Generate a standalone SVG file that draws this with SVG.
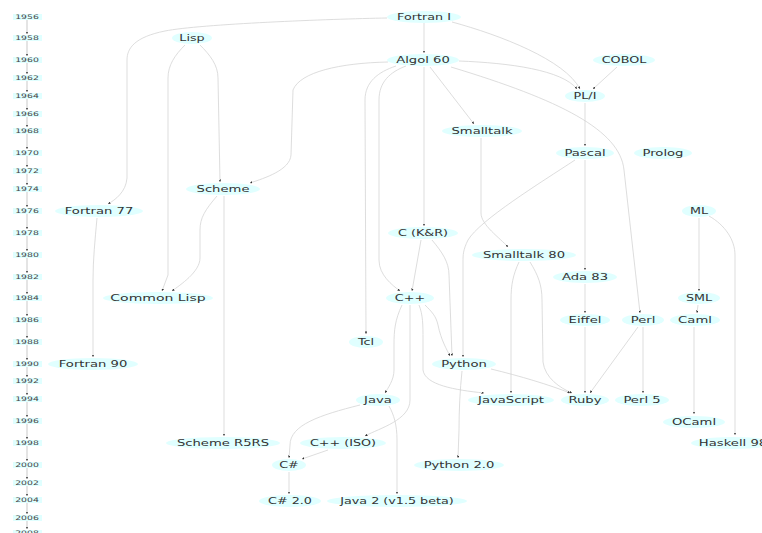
<svg xmlns="http://www.w3.org/2000/svg" width="762" height="533" viewBox="0 0 762 533">
<defs>
<style>
.node ellipse{fill:#e0ffff;stroke:none}
.node text{font-family:"DejaVu Sans",sans-serif;font-size:8.5px;text-anchor:middle;fill:#333}
.edges path{fill:none;stroke:#d4d4d4;stroke-width:0.8;marker-end:url(#ah)}
.years rect{fill:#e0ffff}
.years text{font-family:"DejaVu Sans",sans-serif;font-size:6.2px;text-anchor:middle;fill:#444}
.tl path{fill:none;stroke:#bbb;stroke-width:0.8;marker-end:url(#ah)}
</style>
<marker id="ah" viewBox="0 0 4 4" refX="4" refY="2" markerWidth="2.5" markerHeight="2.5" orient="auto" markerUnits="userSpaceOnUse">
<path d="M0,0 L4,2 L0,4 Z" fill="#333"/>
</marker>
</defs>
<rect width="762" height="533" fill="#fff"/>

<g id="timeline" class="tl">
<path d="M27,20 L27,34"/><path d="M27,41 L27,56"/><path d="M27,63 L27,74"/><path d="M27,81 L27,92"/>
<path d="M27,99 L27,110"/><path d="M27,117 L27,127"/><path d="M27,134 L27,149"/><path d="M27,156 L27,167"/>
<path d="M27,174 L27,185"/><path d="M27,192 L27,207"/><path d="M27,214 L27,229"/><path d="M27,236 L27,251"/>
<path d="M27,258 L27,273"/><path d="M27,280 L27,294"/><path d="M27,301 L27,316"/><path d="M27,323 L27,338"/>
<path d="M27,345 L27,360"/><path d="M27,367 L27,377"/><path d="M27,384 L27,395"/><path d="M27,402 L27,417"/>
<path d="M27,424 L27,439"/><path d="M27,446 L27,461"/><path d="M27,468 L27,479"/><path d="M27,486 L27,496"/>
<path d="M27,503 L27,514"/><path d="M27,521 L27,529"/>
</g>
<g id="years" class="years">
<rect x="13" y="14" width="29" height="6"/><text transform="translate(27 19.2) scale(1.5 1)">1956</text>
<rect x="13" y="35" width="29" height="6"/><text transform="translate(27 40.2) scale(1.5 1)">1958</text>
<rect x="13" y="57" width="29" height="6"/><text transform="translate(27 62.2) scale(1.5 1)">1960</text>
<rect x="13" y="75" width="29" height="6"/><text transform="translate(27 80.2) scale(1.5 1)">1962</text>
<rect x="13" y="93" width="29" height="6"/><text transform="translate(27 98.2) scale(1.5 1)">1964</text>
<rect x="13" y="111" width="29" height="6"/><text transform="translate(27 116.2) scale(1.5 1)">1966</text>
<rect x="13" y="128" width="29" height="6"/><text transform="translate(27 133.2) scale(1.5 1)">1968</text>
<rect x="13" y="150" width="29" height="6"/><text transform="translate(27 155.2) scale(1.5 1)">1970</text>
<rect x="13" y="168" width="29" height="6"/><text transform="translate(27 173.2) scale(1.5 1)">1972</text>
<rect x="13" y="186" width="29" height="6"/><text transform="translate(27 191.2) scale(1.5 1)">1974</text>
<rect x="13" y="208" width="29" height="6"/><text transform="translate(27 213.2) scale(1.5 1)">1976</text>
<rect x="13" y="230" width="29" height="6"/><text transform="translate(27 235.2) scale(1.5 1)">1978</text>
<rect x="13" y="252" width="29" height="6"/><text transform="translate(27 257.2) scale(1.5 1)">1980</text>
<rect x="13" y="274" width="29" height="6"/><text transform="translate(27 279.2) scale(1.5 1)">1982</text>
<rect x="13" y="295" width="29" height="6"/><text transform="translate(27 300.2) scale(1.5 1)">1984</text>
<rect x="13" y="317" width="29" height="6"/><text transform="translate(27 322.2) scale(1.5 1)">1986</text>
<rect x="13" y="339" width="29" height="6"/><text transform="translate(27 344.2) scale(1.5 1)">1988</text>
<rect x="13" y="361" width="29" height="6"/><text transform="translate(27 366.2) scale(1.5 1)">1990</text>
<rect x="13" y="378" width="29" height="6"/><text transform="translate(27 383.2) scale(1.5 1)">1992</text>
<rect x="13" y="396" width="29" height="6"/><text transform="translate(27 401.2) scale(1.5 1)">1994</text>
<rect x="13" y="418" width="29" height="6"/><text transform="translate(27 423.2) scale(1.5 1)">1996</text>
<rect x="13" y="440" width="29" height="6"/><text transform="translate(27 445.2) scale(1.5 1)">1998</text>
<rect x="13" y="462" width="29" height="6"/><text transform="translate(27 467.2) scale(1.5 1)">2000</text>
<rect x="13" y="480" width="29" height="6"/><text transform="translate(27 485.2) scale(1.5 1)">2002</text>
<rect x="13" y="497" width="29" height="6"/><text transform="translate(27 502.2) scale(1.5 1)">2004</text>
<rect x="13" y="515" width="29" height="6"/><text transform="translate(27 520.2) scale(1.5 1)">2006</text>
<rect x="13" y="530" width="29" height="6"/><text transform="translate(27 535.2) scale(1.5 1)">2008</text>
</g>

<g id="edges" class="edges">
<path d="M424,23 L424,53"/>
<path d="M387,18 C330,19 200,24 165,31 C135,37 127,48 127,60 L127,178 C126,192 115,200 108,204"/>
<path d="M452,22 C500,35 565,60 580,89"/>
<path d="M459,61 C510,63 562,70 577,89"/>
<path d="M617,67 L593,89"/>
<path d="M585,103 L585,146"/>
<path d="M430,67 L474,124"/>
<path d="M388,62 C340,63 300,72 293,90 L291,155 C290,170 265,178 250,183"/>
<path d="M396,66 C378,72 365,82 365,100 L366,334"/>
<path d="M406,66 C390,72 379,82 379,100 L379,260 C379,275 392,285 400,291"/>
<path d="M424,67 L424,226"/>
<path d="M451,67 C560,100 620,130 624,170 L640,313"/>
<path d="M481,138 L481,213 C481,225 500,238 508,247"/>
<path d="M585,160 L585,270"/>
<path d="M575,160 C540,183 480,220 468,240 C463,250 463,255 463,262 L463,357"/>
<path d="M217,196 C205,210 200,218 200,230 L200,258 C200,272 180,285 172,291"/>
<path d="M185,45 C175,55 168,65 168,78 L168,275 L162,291"/>
<path d="M200,45 C210,55 218,65 218,78 L220,182"/>
<path d="M97,218 C95,240 93,260 93,280 L93,357"/>
<path d="M224,196 L224,436"/>
<path d="M421,240 L412,291"/>
<path d="M432,240 C442,252 449,262 449,275 L452,356"/>
<path d="M519,262 C513,275 511,285 511,300 L511,393"/>
<path d="M530,262 C538,275 542,285 542,300 L543,362 C545,378 560,388 572,393"/>
<path d="M585,284 L585,313"/>
<path d="M585,327 L585,393"/>
<path d="M638,327 L590,393"/>
<path d="M643,327 L643,393"/>
<path d="M699,218 L699,291"/>
<path d="M709,216 C725,225 735,240 735,255 L735,435"/>
<path d="M698,305 L697,313"/>
<path d="M694,327 L694,414"/>
<path d="M402,305 C395,320 394,330 394,345 L394,370 C394,380 388,388 385,393"/>
<path d="M410,305 L410,400 C410,420 380,428 365,436"/>
<path d="M419,305 C423,315 423,325 423,340 L423,370 C425,385 455,390 484,393"/>
<path d="M425,305 C432,312 436,316 438,325 C441,340 447,350 450,356"/>
<path d="M491,369 C520,376 550,385 570,393"/>
<path d="M462,371 C460,390 459,410 459,430 L458,458"/>
<path d="M360,405 C320,415 290,425 290,445 L289,458"/>
<path d="M389,406 C394,415 397,425 397,440 L397,494"/>
<path d="M328,450 L302,459"/>
<path d="M289,472 L289,494"/>
</g>

<g id="fortran1" class="node"><ellipse cx="424" cy="17" rx="37" ry="6"/><text transform="translate(424 20) scale(1.5 1)">Fortran I</text></g>
<g id="lisp" class="node"><ellipse cx="192" cy="38" rx="20" ry="6"/><text transform="translate(192 41) scale(1.5 1)">Lisp</text></g>
<g id="algol60" class="node"><ellipse cx="423" cy="60" rx="36" ry="6"/><text transform="translate(423 63) scale(1.55 1)">Algol 60</text></g>
<g id="cobol" class="node"><ellipse cx="624" cy="60" rx="31" ry="6"/><text transform="translate(624 63) scale(1.5 1)">COBOL</text></g>
<g id="pli" class="node"><ellipse cx="585" cy="96" rx="20" ry="6"/><text transform="translate(585 99) scale(1.5 1)">PL/I</text></g>
<g id="smalltalk" class="node"><ellipse cx="482" cy="131" rx="40" ry="6"/><text transform="translate(482 134) scale(1.55 1)">Smalltalk</text></g>
<g id="pascal" class="node"><ellipse cx="585" cy="153" rx="29" ry="6"/><text transform="translate(585 156) scale(1.55 1)">Pascal</text></g>
<g id="prolog" class="node"><ellipse cx="663" cy="153" rx="29" ry="6"/><text transform="translate(663 156) scale(1.55 1)">Prolog</text></g>
<g id="scheme" class="node"><ellipse cx="223" cy="189" rx="37" ry="6"/><text transform="translate(223 192) scale(1.55 1)">Scheme</text></g>
<g id="fortran77" class="node"><ellipse cx="99" cy="211" rx="44" ry="6"/><text transform="translate(99 214) scale(1.55 1)">Fortran 77</text></g>
<g id="ml" class="node"><ellipse cx="699" cy="211" rx="17" ry="6"/><text transform="translate(699 214) scale(1.5 1)">ML</text></g>
<g id="ckr" class="node"><ellipse cx="423" cy="233" rx="35" ry="6"/><text transform="translate(423 236) scale(1.5 1)">C (K&amp;R)</text></g>
<g id="smalltalk80" class="node"><ellipse cx="524" cy="255" rx="52" ry="6"/><text transform="translate(524 258) scale(1.55 1)">Smalltalk 80</text></g>
<g id="ada83" class="node"><ellipse cx="585" cy="277" rx="32" ry="6"/><text transform="translate(585 280) scale(1.55 1)">Ada 83</text></g>
<g id="commonlisp" class="node"><ellipse cx="158" cy="298" rx="55" ry="6"/><text transform="translate(158 301) scale(1.65 1)">Common Lisp</text></g>
<g id="cpp" class="node"><ellipse cx="410" cy="298" rx="24" ry="6"/><text transform="translate(410 301) scale(1.5 1)">C++</text></g>
<g id="sml" class="node"><ellipse cx="699" cy="298" rx="21" ry="6"/><text transform="translate(699 301) scale(1.5 1)">SML</text></g>
<g id="eiffel" class="node"><ellipse cx="585" cy="320" rx="25" ry="6"/><text transform="translate(585 323) scale(1.55 1)">Eiffel</text></g>
<g id="perl" class="node"><ellipse cx="643" cy="320" rx="21" ry="6"/><text transform="translate(643 323) scale(1.55 1)">Perl</text></g>
<g id="caml" class="node"><ellipse cx="695" cy="320" rx="25" ry="6"/><text transform="translate(695 323) scale(1.55 1)">Caml</text></g>
<g id="tcl" class="node"><ellipse cx="366" cy="342" rx="17" ry="6"/><text transform="translate(366 345) scale(1.5 1)">Tcl</text></g>
<g id="fortran90" class="node"><ellipse cx="93" cy="364" rx="45" ry="6"/><text transform="translate(93 367) scale(1.55 1)">Fortran 90</text></g>
<g id="python" class="node"><ellipse cx="464" cy="364" rx="32" ry="6"/><text transform="translate(464 367) scale(1.55 1)">Python</text></g>
<g id="java" class="node"><ellipse cx="378" cy="400" rx="22" ry="6"/><text transform="translate(378 403) scale(1.55 1)">Java</text></g>
<g id="javascript" class="node"><ellipse cx="511" cy="400" rx="43" ry="6"/><text transform="translate(511 403) scale(1.55 1)">JavaScript</text></g>
<g id="ruby" class="node"><ellipse cx="585" cy="400" rx="24" ry="6"/><text transform="translate(585 403) scale(1.55 1)">Ruby</text></g>
<g id="perl5" class="node"><ellipse cx="642" cy="400" rx="27" ry="6"/><text transform="translate(642 403) scale(1.55 1)">Perl 5</text></g>
<g id="ocaml" class="node"><ellipse cx="694" cy="422" rx="31" ry="6"/><text transform="translate(694 425) scale(1.55 1)">OCaml</text></g>
<g id="haskell98" class="node"><ellipse cx="733" cy="443" rx="42" ry="6"/><text transform="translate(733 446) scale(1.55 1)">Haskell 98</text></g>
<g id="schemer5rs" class="node"><ellipse cx="223" cy="443" rx="57" ry="6"/><text transform="translate(223 446) scale(1.55 1)">Scheme R5RS</text></g>
<g id="cppiso" class="node"><ellipse cx="343" cy="443" rx="43" ry="6"/><text transform="translate(343 446) scale(1.5 1)">C++ (ISO)</text></g>
<g id="csharp" class="node"><ellipse cx="289" cy="465" rx="17" ry="6"/><text transform="translate(289 468) scale(1.5 1)">C#</text></g>
<g id="python20" class="node"><ellipse cx="459" cy="465" rx="45" ry="6"/><text transform="translate(459 468) scale(1.55 1)">Python 2.0</text></g>
<g id="csharp20" class="node"><ellipse cx="290" cy="501" rx="31" ry="6"/><text transform="translate(290 504) scale(1.5 1)">C# 2.0</text></g>
<g id="java2" class="node"><ellipse cx="397" cy="501" rx="70" ry="6"/><text transform="translate(397 504) scale(1.5 1)">Java 2 (v1.5 beta)</text></g>
</svg>
